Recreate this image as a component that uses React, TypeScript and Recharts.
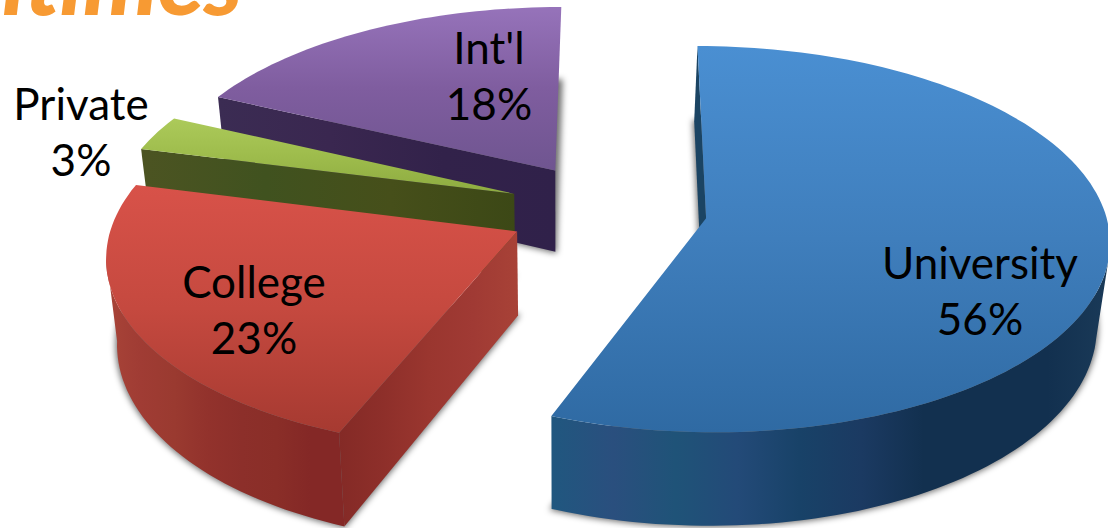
import { Pie, PieChart } from "recharts";

// drawn back to front, so the list runs counter-clockwise from the top
const names = ["Int'l", "Private", "College", "University"];
const shares = [18, 3, 23, 56];
const tableData = names.map((name, i) => ({ name, value: shares[i] }));

const topColors: Record<string, string[]> = {
  "Int'l": ["#9673ba", "#7f5d9f", "#6f5590"],
  Private: ["#acca5a", "#9ebc4c", "#8dab40"],
  College: ["#d85249", "#c5493f", "#a63a31"],
  University: ["#4a8fd2", "#3f7ebc", "#2f6aa3"],
};
const rimColors: Record<string, string[]> = {
  "Int'l": ["#3a2b52", "#32224a"],
  Private: ["#4c5422", "#3e4a18"],
  College: ["#a84438", "#a03c34", "#9a3a30", "#92322c", "#8c2f2a", "#8a2e28", "#842826", "#842826"],
  University: ["#20577f", "#2a4f7e", "#1f5378", "#234a78", "#184268", "#1b3a62", "#12304f", "#12304f", "#12304f", "#1a3a58"],
};
const wallColors: Record<string, string[]> = {
  "Int'l": ["#3b2c53", "#3a2750", "#32224a", "#30214a"],
  Private: ["#4c5422", "#40521f", "#464f1a", "#3c4816"],
  College: ["#842a26", "#8e2f2a", "#9a362f", "#a03a34", "#a84237"],
  University: ["#1b4463", "#1b4463"],
};
const labelSpots: Record<string, [number, number]> = {
  "Int'l": [489, 64],
  Private: [81, 120],
  College: [254, 298],
  University: [980, 279],
};

// projection of the pie plane on to the page
const originX = 607.5;
const originY = 209.5;
const radiusX = 400;
const radiusY = 189;
const perspective = 0.108;
const shear = 13;
const tilt = 5;
const explode = 0.25;
const depth = 83;
const baseShrink = 0.024;
const baseCenterX = 560;
const camera = { u: 0, v: -9 };

const project = (u: number, v: number, drop = 0) => {
  const s = 1 / (1 + perspective * v);
  const x = originX + (radiusX * u + shear * v) * s;
  const y = originY + (tilt * u - radiusY * v) * s + drop * s;
  return [drop ? x + (baseCenterX - x) * baseShrink : x, y];
};
const rad = (deg: number) => (deg * Math.PI) / 180;
const toPath = (pts: number[][]) => "M" + pts.map((p) => p[0].toFixed(1) + " " + p[1].toFixed(1)).join("L") + "Z";

const Gradient = ({ id, colors, vertical }: { id: string; colors: string[]; vertical?: boolean }) => (
  <linearGradient id={id} x1="0" y1="0" x2={vertical ? 0 : 1} y2={vertical ? 1 : 0}>
    {colors.map((c, i) => (
      <stop key={i} offset={i / (colors.length - 1)} stopColor={c} />
    ))}
  </linearGradient>
);

const Wedge = (props: any) => {
  const { startAngle, endAngle, name } = props;
  const a = 90 - Math.max(startAngle, endAngle);
  const b = 90 - Math.min(startAngle, endAngle);
  const mid = rad((a + b) / 2);
  const ou = explode * Math.sin(mid);
  const ov = explode * Math.cos(mid);

  const thetas: number[] = [];
  for (let t = a; t < b; t += 1.5) thetas.push(t);
  thetas.push(b);
  const rimPlane = thetas.map((t) => ({ t, u: ou + Math.sin(rad(t)), v: ov + Math.cos(rad(t)) }));

  const topPts = [project(ou, ov), ...rimPlane.map((p) => project(p.u, p.v))];
  const basePts = [project(ou, ov, depth), ...rimPlane.map((p) => project(p.u, p.v, depth))];

  // only the walls that face the camera get painted
  const rimVisible = rimPlane.filter((p) => (camera.u - p.u) * Math.sin(rad(p.t)) + (camera.v - p.v) * Math.cos(rad(p.t)) > 0);
  const rimTop = rimVisible.map((p) => project(p.u, p.v));
  const rimBase = rimVisible.map((p) => project(p.u, p.v, depth)).reverse();

  const radialWall = (t: number, sign: number) => {
    const nu = sign * Math.cos(rad(t));
    const nv = -sign * Math.sin(rad(t));
    if ((camera.u - ou) * nu + (camera.v - ov) * nv <= 0) return null;
    const u = ou + Math.sin(rad(t));
    const v = ov + Math.cos(rad(t));
    return toPath([project(ou, ov), project(u, v), project(u, v, depth), project(ou, ov, depth)]);
  };
  const walls = [radialWall(a, -1), radialWall(b, 1)].filter(Boolean) as string[];
  const key = names.indexOf(name);

  return (
    <g>
      <defs>
        <Gradient id={`top-${key}`} colors={topColors[name]} vertical />
        <Gradient id={`rim-${key}`} colors={rimColors[name]} />
        <Gradient id={`wall-${key}`} colors={wallColors[name]} />
        <filter id={`soft-${key}`} x="-10%" y="-10%" width="120%" height="120%">
          <feGaussianBlur stdDeviation="3" />
        </filter>
      </defs>
      <path d={toPath(basePts)} fill="#000" fillOpacity={0.55} stroke="#000" strokeWidth={3} strokeOpacity={0.4} filter={`url(#soft-${key})`} />
      {walls.map((d, i) => (
        <path key={i} d={d} fill={`url(#wall-${key})`} />
      ))}
      {rimTop.length > 1 && <path d={toPath([...rimTop, ...rimBase])} fill={`url(#rim-${key})`} />}
      <path d={toPath(topPts)} fill={`url(#top-${key})`} />
    </g>
  );
};

const SliceLabel = (props: any) => {
  const [x, y] = labelSpots[props.name];
  return (
    <text x={x} y={y} textAnchor="middle" fontFamily="Lato" fontSize={44} fill="#000">
      <tspan x={x}>{props.name}</tspan>
      <tspan x={x} dy={56}>{Math.round(props.percent * 100)}%</tspan>
    </text>
  );
};

export default function App() {
  return (
    <div style={{ position: "absolute", left: 0, top: 0, width: 1108, height: 528, overflow: "hidden", background: "#fff" }}>
      <div style={{ position: "absolute", left: -163, top: -75, fontFamily: "Lato", fontWeight: 900, fontStyle: "italic", fontSize: 94, lineHeight: "108px", color: "#f79a33", whiteSpace: "nowrap" }}>
        Maritimes
      </div>
      <div style={{ position: "absolute", left: 0, top: 0 }}>
        <PieChart width={1108} height={528} margin={{ top: 0, right: 0, bottom: 0, left: 0 }}>
          <Pie
            data={tableData}
            dataKey="value"
            nameKey="name"
            cx={originX}
            cy={originY}
            outerRadius={190}
            startAngle={-268.3}
            endAngle={91.7}
            stroke="none"
            shape={Wedge}
            label={SliceLabel}
            labelLine={false}
            isAnimationActive={false}
          />
        </PieChart>
      </div>
    </div>
  );
}
